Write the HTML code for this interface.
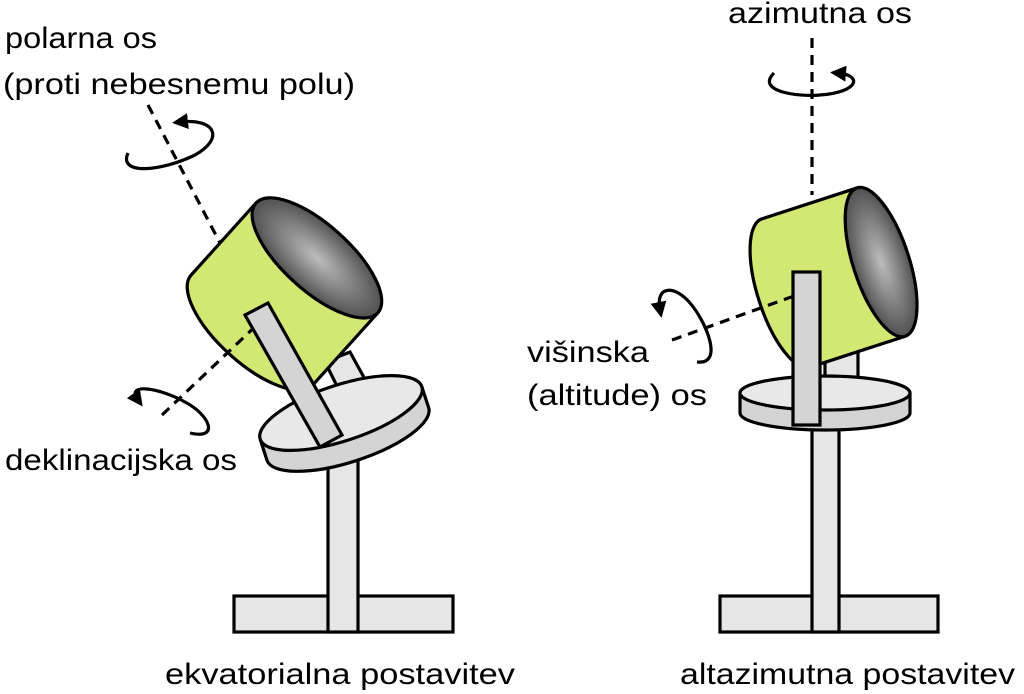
<!DOCTYPE html>
<html><head><meta charset="utf-8"><style>
html,body{margin:0;padding:0;background:#fff;}
svg{display:block;}
text{font-family:"Liberation Sans",sans-serif;font-size:30px;fill:#000;}
</style></head><body>
<svg width="1024" height="694" viewBox="0 0 1024 694" xmlns="http://www.w3.org/2000/svg">
<defs>
<radialGradient id="g" cx="0.5" cy="0.5" r="0.6">
<stop offset="0" stop-color="#bdbdbd"/><stop offset="1" stop-color="#3c3c3c"/>
</radialGradient>
<marker id="ah" viewBox="0 0 10 10" refX="5" refY="5" markerWidth="5" markerHeight="5" orient="auto">
<path d="M0,0 L10,5 L0,10 z" fill="#000"/>
</marker>
</defs>
<g stroke="#000" stroke-width="3.2" fill="none">
<rect x="234" y="596" width="219" height="36" fill="#e6e6e6"/>
<rect x="328" y="440" width="30" height="192" fill="#e6e6e6"/>
<polygon points="325,362 350,352 372,392 345,402" fill="#e6e6e6"/>
<g transform="translate(341,413) rotate(-18)">
<path d="M-85,0 L-85,22 A85,28 0 0 0 85,22 L85,0" fill="#d4d4d4"/>
<ellipse cx="0" cy="0" rx="85" ry="28" fill="#e8e8e8"/>
</g>
<g transform="translate(252,330) rotate(-48)">
<path d="M0,-82 L97,-82 L97,82 L0,82 A33,82 0 0 1 0,-82 Z" fill="#d3e872"/>
<ellipse cx="97" cy="0" rx="33" ry="82" fill="url(#g)"/>
</g>
<line x1="162" y1="415" x2="262" y2="320" stroke-dasharray="10,7"/>
<polygon points="245,315 268,303 342,435 320,447" fill="#d4d4d4"/>
<line x1="148" y1="105" x2="220" y2="243" stroke-dasharray="10,7"/>
<path d="M128,153 C118,175 160,172 195,155 C225,138 215,118 180,122" marker-end="url(#ah)"/>
<path d="M190,433 C220,440 210,415 185,402 C160,388 125,382 138,400" marker-end="url(#ah)"/>

<rect x="720" y="596" width="218" height="36" fill="#e6e6e6"/>
<rect x="812" y="420" width="27" height="212" fill="#e6e6e6"/>
<rect x="825" y="350" width="33" height="30" fill="#e6e6e6"/>
<path d="M740,393 L740,413 A85,17 0 0 0 910,413 L910,393" fill="#d4d4d4"/>
<ellipse cx="825" cy="393" rx="85" ry="17" fill="#e8e8e8"/>
<line x1="812" y1="38" x2="812" y2="195" stroke-dasharray="10,7"/>
<g transform="translate(786,293) rotate(-18)">
<path d="M0,-78 L100,-78 L100,78 L0,78 A28,78 0 0 1 0,-78 Z" fill="#d3e872"/>
<ellipse cx="100" cy="0" rx="28" ry="78" fill="url(#g)"/>
</g>
<line x1="672" y1="340" x2="805" y2="292" stroke-dasharray="10,7"/>
<rect x="793" y="272" width="27" height="153" fill="#d4d4d4"/>
<path d="M774,73 C755,92 800,97 820,95 C860,92 862,75 838,73" marker-end="url(#ah)"/>
<path d="M697,362 C725,365 705,320 690,303 C675,285 655,285 660,310" marker-end="url(#ah)"/>
</g>
<text x="5" y="48" textLength="152" lengthAdjust="spacingAndGlyphs">polarna os</text>
<text x="3" y="94" textLength="352" lengthAdjust="spacingAndGlyphs">(proti nebesnemu polu)</text>
<text x="5" y="470" textLength="232" lengthAdjust="spacingAndGlyphs">deklinacijska os</text>
<text x="527" y="362" textLength="122" lengthAdjust="spacingAndGlyphs">višinska</text>
<text x="527" y="405" textLength="180" lengthAdjust="spacingAndGlyphs">(altitude) os</text>
<text x="728" y="23" textLength="184" lengthAdjust="spacingAndGlyphs">azimutna os</text>
<text x="165" y="684" textLength="350" lengthAdjust="spacingAndGlyphs">ekvatorialna postavitev</text>
<text x="680" y="684" textLength="335" lengthAdjust="spacingAndGlyphs">altazimutna postavitev</text>
</svg>
</body></html>
